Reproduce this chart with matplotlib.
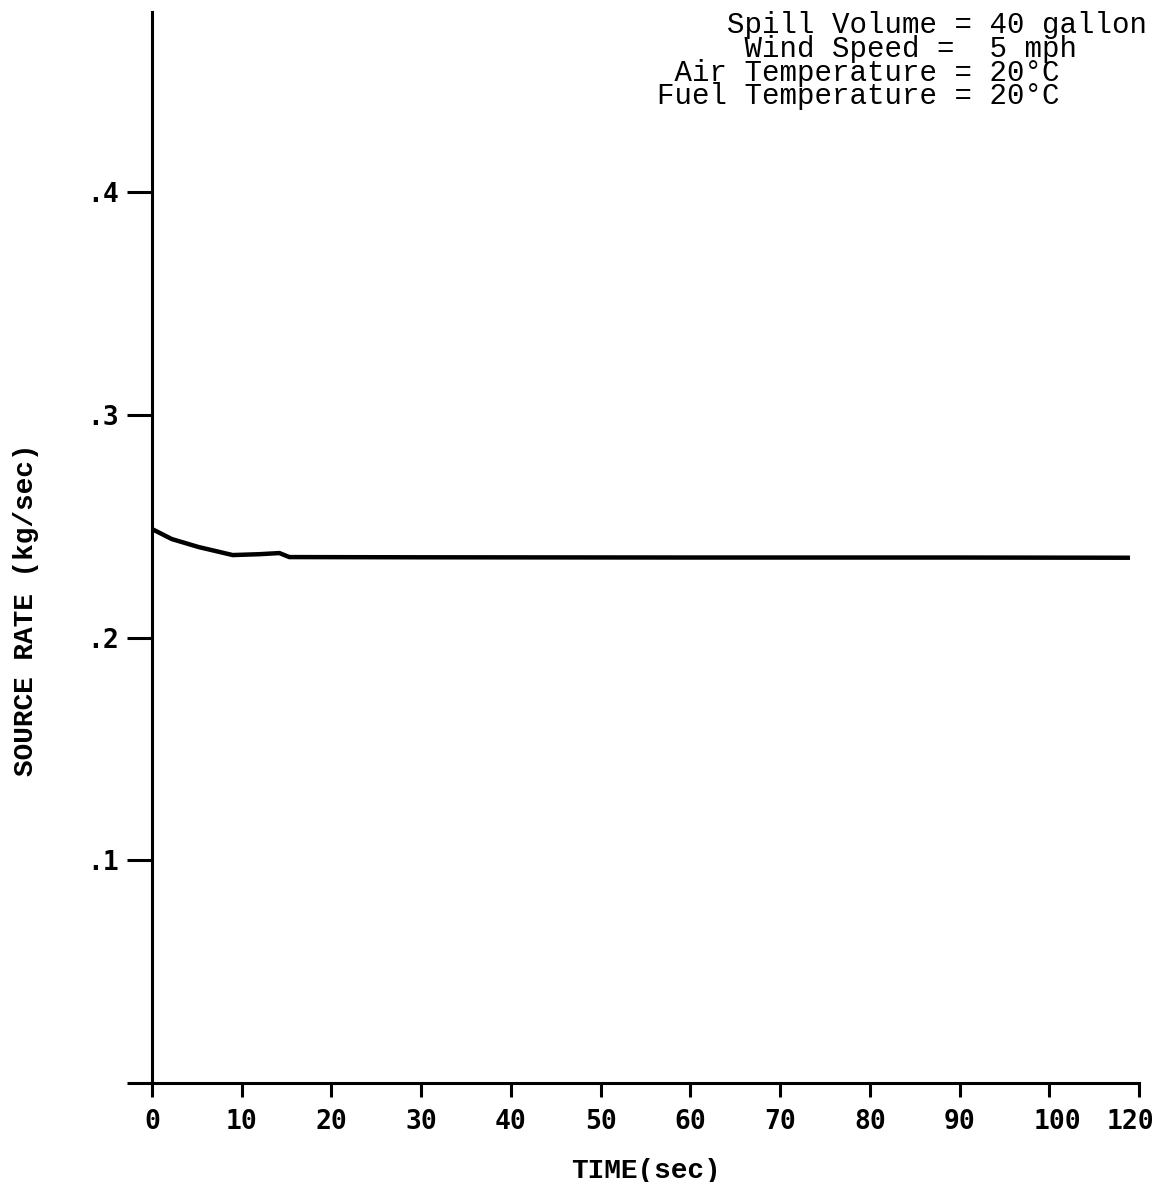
import matplotlib
matplotlib.use("Agg")
import matplotlib.pyplot as plt
from matplotlib.transforms import ScaledTranslation

# Source rate vs time
time_sec = [0, 2.2, 5.2, 9.0, 12.0, 14.2, 15.3, 30, 60, 90, 109]
source_rate = [0.2488, 0.2443, 0.2407, 0.2371, 0.2375, 0.2380, 0.2362,
               0.2361, 0.2360, 0.2360, 0.2359]

# x tick positions and their printed labels (last one is printed "120")
x_ticks = [0, 10, 20, 30, 40, 50, 60, 70, 80, 90, 100, 110]
x_labels = ["0", "10", "20", "30", "40", "50", "60", "70", "80", "90", "100", "120"]
y_ticks = [0, 0.1, 0.2, 0.3, 0.4]
y_labels = ["", ".1", ".2", ".3", ".4"]

conditions = ["    Spill Volume = 40 gallon",
              "     Wind Speed =  5 mph",
              " Air Temperature = 20°C",
              "Fuel Temperature = 20°C"]

W, H = 1160, 1182
fig = plt.figure(figsize=(W / 100, H / 100), dpi=100)
ax = fig.add_axes([152 / W, (H - 1083) / H, 987 / W, 1071 / H])

ax.plot(time_sec, source_rate, color="black", lw=3.2, solid_capstyle="butt")

ax.set_xlim(0, 110)
ax.set_ylim(0, 0.481)
for s in ["top", "right"]:
    ax.spines[s].set_visible(False)
for s in ["left", "bottom"]:
    ax.spines[s].set_linewidth(2.2)

tick_font = dict(family="DejaVu Sans Mono", weight="bold", size=19)
ax.tick_params(axis="x", length=10, width=2.2, pad=9)
ax.tick_params(axis="y", length=18, width=2.2, pad=6)
ax.set_xticks(x_ticks)
ax.set_xticklabels(x_labels, fontdict=tick_font)
ax.set_yticks(y_ticks)
ax.set_yticklabels(y_labels, fontdict=tick_font)

# the last two x labels sit a little off their ticks in the original
xl = ax.get_xticklabels()
xl[-2].set_transform(xl[-2].get_transform() + ScaledTranslation(0.08, 0, fig.dpi_scale_trans))
xl[-1].set_transform(xl[-1].get_transform() + ScaledTranslation(-0.09, 0, fig.dpi_scale_trans))

label_font = dict(family="Liberation Mono", weight="bold", size=20)
ax.set_xlabel("TIME(sec)", fontdict=label_font)
ax.set_ylabel("SOURCE RATE (kg/sec)", fontdict=label_font)
ax.xaxis.set_label_coords(646 / W, (H - 1158) / H, transform=fig.transFigure)
ax.yaxis.set_label_coords(39 / W, (H - 610) / H, transform=fig.transFigure)

# Conditions block, top right
fig.text(657 / W, (H - 11) / H, "\n".join(conditions), family="Liberation Mono",
         size=21, ha="left", va="top", multialignment="left", linespacing=0.81)

fig.savefig("out.png", dpi=100)
